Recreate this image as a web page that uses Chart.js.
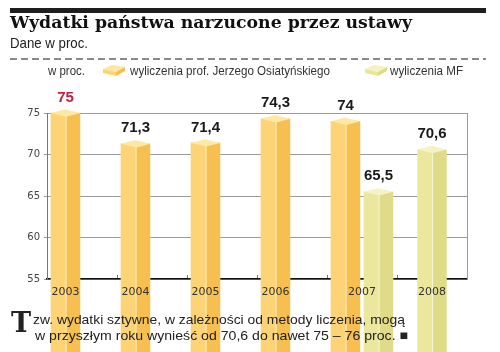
<!DOCTYPE html>
<html>
<head>
<meta charset="utf-8">
<script src="https://cdn.jsdelivr.net/npm/chart.js@4.4.0/dist/chart.umd.min.js"></script>
<style>
  html, body { margin: 0; padding: 0; background: #fff; }
  #page { position: relative; width: 500px; height: 352px; overflow: hidden; }
  #chart { position: absolute; left: 0; top: 0; }
  .txt { position: absolute; white-space: nowrap; transform-origin: 0 0; }
  #topbar { position: absolute; left: 10px; top: 8px; width: 476px; height: 5px; background: #1e1e1e; }
  #title { left: 10px; top: 14px; font: bold 17px/17px "DejaVu Serif", serif; color: #111; }
  #sub { left: 10px; top: 35px; font: 15px/15px "Liberation Sans Narrow", "Liberation Sans", sans-serif; color: #222; }
  #dash { position: absolute; left: 10px; top: 58px; width: 476px; height: 2px;
          background: repeating-linear-gradient(to right, #8a8a8a 0 7px, transparent 7px 11px); }
  .leg { top: 64px; font: 13px/13px "Liberation Sans Narrow", "Liberation Sans", sans-serif; color: #333; }
  .icon { position: absolute; top: 65px; }
  #dropcap { left: 11px; top: 309px; font: bold 27px/27px "DejaVu Serif", serif; color: #222; }
  .foot { left: 33px; font: 13.5px/14px "Liberation Sans", sans-serif; color: #222; }
</style>
</head>
<body>
<div id="page">
  <canvas id="chart" width="500" height="352"></canvas>
  <div id="topbar"></div>
  <div class="txt" id="title" data-w="402">Wydatki państwa narzucone przez ustawy</div>
  <div class="txt" id="sub" data-w="78">Dane w proc.</div>
  <div id="dash"></div>
  <div class="txt leg" style="left:48px" data-w="37">w proc.</div>
  <svg class="icon" style="left:103px" width="23" height="12">
    <polygon points="0,4 9,0 22,2 13,7" fill="#FEE7A2"/>
    <polygon points="0,4 13,7 13,11 0,8" fill="#FCD373"/>
    <polygon points="13,7 22,2 22,6 13,11" fill="#F6BC4C"/>
  </svg>
  <div class="txt leg" style="left:130px" data-w="200">wyliczenia prof. Jerzego Osiatyńskiego</div>
  <svg class="icon" style="left:365px" width="23" height="12">
    <polygon points="0,4 9,0 22,2 13,7" fill="#F4F2C0"/>
    <polygon points="0,4 13,7 13,11 0,8" fill="#EAE69B"/>
    <polygon points="13,7 22,2 22,6 13,11" fill="#DEDA86"/>
  </svg>
  <div class="txt leg" style="left:390px" data-w="73">wyliczenia MF</div>
  <div class="txt" id="dropcap">T</div>
  <div class="txt foot" style="top:313px" data-w="372">zw. wydatki sztywne, w zależności od metody liczenia, mogą</div>
  <div class="txt foot" style="top:329px;left:35px" data-w="373">w przyszłym roku wynieść od 70,6 do nawet 75 – 76 proc. ■</div>
</div>
<script>
// data
var years = ['2003', '2004', '2005', '2006', '2007', '2008'];
var osiatynskiValues = [75, 71.3, 71.4, 74.3, 74, null];
var mfValues = [null, null, null, null, 65.5, 70.6];
var yTicks = [55, 60, 65, 70, 75];
var redLabelYears = ['2003'];

// MF bar sits next to the other one only where both exist
var mfBeside = mfValues.map(function (v, i) { return osiatynskiValues[i] === null ? null : v; });
var mfAlone = mfValues.map(function (v, i) { return osiatynskiValues[i] === null ? v : null; });

var orange = { front: '#FCD475', side: '#F7BF50', cap: '#FEE8A5', edge: '#FFF0C4' };
var olive = { front: '#EBE79D', side: '#E0DB88', cap: '#F5F3C3', edge: '#F8F7D6' };
var datasetLook = [orange, olive, olive];

function fmt(v) {
    return String(v).replace('.', ',');
}

// fake 3d prisms on top of the library's bars + value labels + year labels
var prismPlugin = {
    id: 'prism',
    afterDatasetsDraw: function (chart) {
        var ctx = chart.ctx;
        var d = 3.7;
        ctx.save();
        chart.data.datasets.forEach(function (ds, di) {
            var meta = chart.getDatasetMeta(di);
            var look = datasetLook[di];
            meta.data.forEach(function (el, i) {
                var v = ds.data[i];
                if (v === null || v === undefined) return;
                var L = el.x - el.width / 2;
                var R = el.x + el.width / 2;
                var M = L + (R - L) * 0.52;
                var T = el.y;
                var B = el.base;
                ctx.fillStyle = look.front;
                ctx.beginPath();
                ctx.moveTo(L, T); ctx.lineTo(M, T + d); ctx.lineTo(M, B + d); ctx.lineTo(L, B);
                ctx.closePath(); ctx.fill();
                ctx.fillStyle = look.side;
                ctx.beginPath();
                ctx.moveTo(M, T + d); ctx.lineTo(R, T); ctx.lineTo(R, B); ctx.lineTo(M, B + d);
                ctx.closePath(); ctx.fill();
                ctx.fillStyle = look.cap;
                ctx.beginPath();
                ctx.moveTo(L, T); ctx.lineTo(L + R - M, T - d); ctx.lineTo(R, T); ctx.lineTo(M, T + d);
                ctx.closePath(); ctx.fill();
                ctx.strokeStyle = look.edge;
                ctx.lineWidth = 1;
                ctx.beginPath();
                ctx.moveTo(M, T + d); ctx.lineTo(M, B + d);
                ctx.stroke();

                ctx.fillStyle = redLabelYears.indexOf(years[i]) >= 0 ? '#C3203F' : '#1a1a1a';
                ctx.font = 'bold 15px "Liberation Sans", sans-serif';
                ctx.textAlign = 'center';
                ctx.textBaseline = 'middle';
                ctx.fillText(fmt(v), el.x, T - 15.5);
            });
        });
        // year labels centred under whatever bars the year has
        ctx.font = '11px "DejaVu Sans", sans-serif';
        ctx.fillStyle = '#333';
        ctx.textAlign = 'center';
        ctx.textBaseline = 'middle';
        years.forEach(function (y, i) {
            var xs = [];
            chart.data.datasets.forEach(function (ds, di) {
                if (ds.data[i] !== null) xs.push(chart.getDatasetMeta(di).data[i].x);
            });
            var x = xs.reduce(function (a, b) { return a + b; }, 0) / xs.length;
            ctx.fillText(y, x, chart.chartArea.bottom + 13);
        });
        ctx.restore();
    }
};

var ctx = document.getElementById('chart').getContext('2d');
var chart = new Chart(ctx, {
    type: 'bar',
    data: {
        labels: years,
        datasets: [{
            label: 'wyliczenia prof. Jerzego Osiatyńskiego',
            data: osiatynskiValues,
            backgroundColor: orange.front,
            barThickness: 33,
            maxBarThickness: 29,
            clip: false
        }, {
            label: 'wyliczenia MF',
            data: mfBeside,
            backgroundColor: olive.front,
            barThickness: 33,
            maxBarThickness: 29,
            clip: false
        }, {
            label: 'wyliczenia MF',
            data: mfAlone,
            backgroundColor: olive.front,
            grouped: false,
            maxBarThickness: 29,
            clip: false
        }]
    },
    options: {
        responsive: false,
        animation: false,
        events: [],
        layout: { padding: { left: 0, right: 33, top: 113, bottom: 53 } },
        plugins: { legend: { display: false }, title: { display: false }, tooltip: { enabled: false } },
        scales: {
            x: {
                grid: { drawOnChartArea: false, drawTicks: true, tickLength: -4, color: '#777' },
                border: { color: '#111', width: 1.5 },
                ticks: { display: false },
                afterFit: function (s) { s.height = 20; }
            },
            y: {
                min: yTicks[0],
                max: yTicks[yTicks.length - 1],
                afterBuildTicks: function (s) {
                    s.ticks = yTicks.map(function (t) { return { value: t }; });
                },
                grid: { color: '#9a9a9a', lineWidth: 1, tickLength: 3 },
                border: { color: '#777' },
                ticks: { color: '#444', padding: 4, font: { family: 'DejaVu Sans', size: 10 } },
                afterFit: function (s) { s.width = 47; }
            },
            y2: {
                position: 'right',
                min: yTicks[0],
                max: yTicks[yTicks.length - 1],
                grid: { display: false },
                ticks: { display: false },
                border: { color: '#9a9a9a' },
                afterFit: function (s) { s.width = 0; }
            }
        }
    },
    plugins: [prismPlugin]
});

// squeeze/stretch the html texts to the widths seen in the picture
var texts = document.querySelectorAll('[data-w]');
for (var i = 0; i < texts.length; i++) {
    var w = texts[i].getBoundingClientRect().width;
    var target = parseFloat(texts[i].getAttribute('data-w'));
    if (w > 0) texts[i].style.transform = 'scaleX(' + (target / w) + ')';
}
</script>
</body>
</html>
